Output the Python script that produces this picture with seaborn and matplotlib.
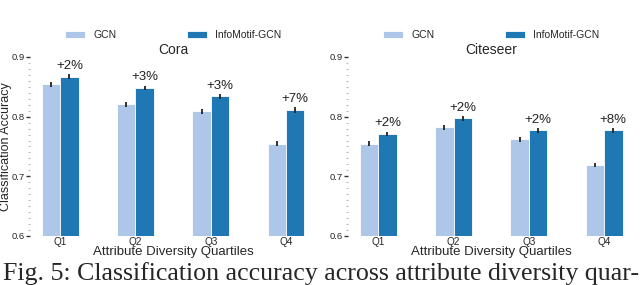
import numpy as np
import pandas as pd
import matplotlib
matplotlib.use("Agg")
import matplotlib.pyplot as plt
import seaborn as sns
from matplotlib.ticker import MultipleLocator

quartiles = ["Q1", "Q2", "Q3", "Q4"]
models = ["GCN", "InfoMotif-GCN"]
cora_gcn = [0.854, 0.821, 0.809, 0.755]
cora_info = [0.867, 0.848, 0.834, 0.811]
cora_gcn_err = [0.004, 0.004, 0.004, 0.004]
cora_info_err = [0.004, 0.004, 0.004, 0.005]
cora_gain = ["+2%", "+3%", "+3%", "+7%"]
cite_gcn = [0.755, 0.782, 0.762, 0.719]
cite_info = [0.771, 0.797, 0.777, 0.777]
cite_gcn_err = [0.004, 0.004, 0.004, 0.004]
cite_info_err = [0.004, 0.004, 0.004, 0.004]
cite_gain = ["+2%", "+2%", "+2%", "+8%"]
colors = ["#aec7e8", "#1f77b4"]

sns.set_style("white")
plt.rcParams["font.family"] = ["Liberation Sans", "DejaVu Sans"]

fig = plt.figure(figsize=(6.4, 2.85), dpi=100)
ax1 = fig.add_axes([0.047, 0.172, 0.447, 0.628])
ax2 = fig.add_axes([0.544, 0.172, 0.447, 0.628])

def panel(ax, title, gcn, info, gerr, ierr, gains, ylabel):
    df = pd.DataFrame({
        "Quartile": quartiles * 2,
        "Model": [models[0]] * 4 + [models[1]] * 4,
        "Accuracy": list(gcn) + list(info),
    })
    sns.barplot(data=df, x="Quartile", y="Accuracy", hue="Model",
                palette=colors, saturation=1, width=0.49, errorbar=None, ax=ax,
                edgecolor="white", linewidth=0.6)
    errs = list(gerr) + list(ierr)
    vals = list(gcn) + list(info)
    patches = ax.patches[:8]
    for p, v, e in zip(patches, vals, errs):
        xc = p.get_x() + p.get_width() / 2
        ax.errorbar(xc, v, yerr=e, color="#222222", elinewidth=1.3, capsize=0)
    for p, v, e, g in zip(patches[4:], info, ierr, gains):
        xc = p.get_x() + p.get_width() / 2
        ax.text(xc, v + e + 0.004, g, ha="center", va="bottom", fontsize=9.5,
                color="#222222")
    ax.set_ylim(0.6, 0.9)
    ax.set_xlim(-0.4, 3.4)
    ax.yaxis.set_minor_locator(MultipleLocator(0.01))
    ax.set_yticks([0.6, 0.7, 0.8, 0.9])
    ax.set_yticklabels(["0.6", "0.7", "0.8", "0.9"])
    ax.tick_params(axis="y", which="major", length=3, width=1, color="#333333",
                   labelsize=6.8, pad=1, left=True)
    ax.tick_params(axis="y", which="minor", length=1.2, width=0.8, color="#bbbbbb", left=True)
    ax.tick_params(axis="x", length=0, labelsize=7.2, pad=1)
    for s in ax.spines.values():
        s.set_visible(False)
    ax.set_xlabel("Attribute Diversity Quartiles", fontsize=9.5, labelpad=-1)
    ax.set_ylabel(ylabel, fontsize=9)
    ax.yaxis.set_label_coords(-0.062, 0.5)
    ax.set_title(title, fontsize=10, pad=2)
    ax.legend(loc="lower center", bbox_to_anchor=(0.5, 1.04), ncol=2,
              frameon=False, fontsize=7.5, columnspacing=6.8,
              handlelength=1.9, handleheight=0.6, handletextpad=0.8)

panel(ax1, "Cora", cora_gcn, cora_info, cora_gcn_err, cora_info_err, cora_gain,
      "Classification Accuracy")
panel(ax2, "Citeseer", cite_gcn, cite_info, cite_gcn_err, cite_info_err, cite_gain, "")

fig.text(0.004, 0.016, "Fig. 5: Classification accuracy across attribute diversity quar-",
         fontsize=18.6, family=["Liberation Serif", "DejaVu Serif"], ha="left", va="baseline")

fig.savefig("out.png", dpi=100)
